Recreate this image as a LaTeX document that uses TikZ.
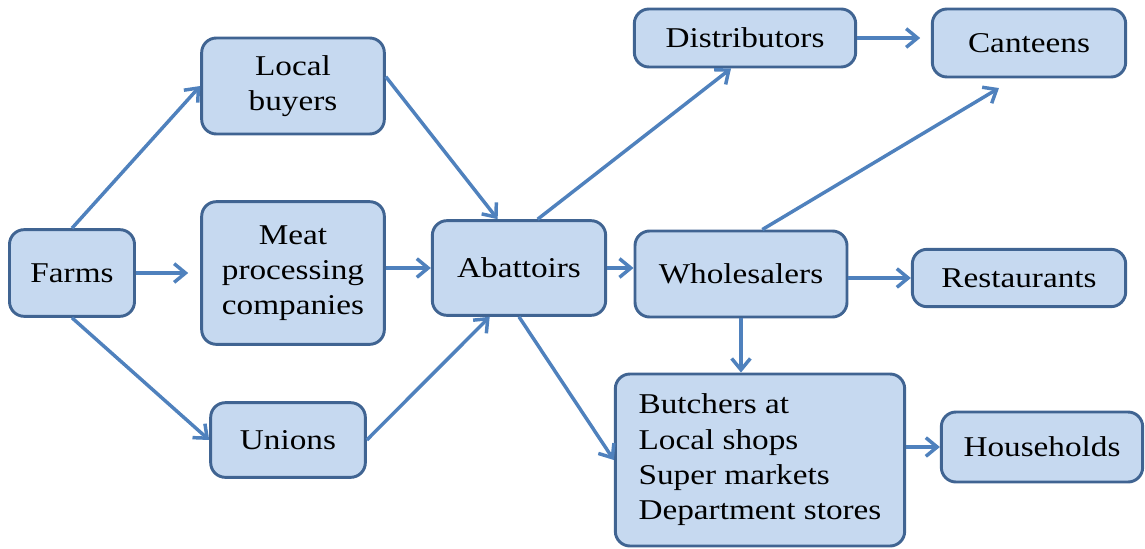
\documentclass[tikz,border=0pt]{standalone}
\usepackage{fontspec}
\setmainfont{Liberation Serif}[FakeStretch=1.16]
\usetikzlibrary{arrows.meta}

\definecolor{boxfill}{RGB}{198,217,240}
\definecolor{boxline}{RGB}{64,100,146}
\definecolor{arrowline}{RGB}{79,129,189}

\begin{document}
\begin{tikzpicture}[x=0.75pt,y=0.75pt,yscale=-1,xscale=1,
  box/.style={draw=boxline,fill=boxfill,line width=2.2pt,rounded corners=11pt,
    align=center,inner sep=0pt,font=\fontsize{21.5}{26.5}\selectfont},
  flow/.style={draw=arrowline,line width=2.6pt,-{Straight Barb[length=8.5pt,width=14pt,line width=2.6pt]}}]
\useasboundingbox (0,0) rectangle (1145,549);

% Boxes
\node [box,minimum width=93.75pt,minimum height=65pt] (farms) at (72,273) {Farms};
\node [box,minimum width=137pt,minimum height=72pt] (buyers) at (293,86) {Local\\buyers};
\node [box,minimum width=137pt,minimum height=107pt] (meat) at (293,273) {Meat\\processing\\companies};
\node [box,minimum width=116pt,minimum height=56pt] (unions) at (288,440) {Unions};
\node [box,minimum width=130pt,minimum height=71pt] (abattoirs) at (519,268) {Abattoirs};
\node [box,minimum width=166pt,minimum height=43.5pt] (distributors) at (745,38) {Distributors};
\node [box,minimum width=145pt,minimum height=51pt] (canteens) at (1029,43) {Canteens};
\node [box,minimum width=159pt,minimum height=64.5pt] (wholesalers) at (741,274) {Wholesalers};
\node [box,minimum width=160pt,minimum height=43pt] (restaurants) at (1019,278) {Restaurants};
\node [box,minimum width=217pt,minimum height=129pt,align=left] (butchers) at (760,460) {Butchers at\\Local shops\\Super markets\\Department stores};
\node [box,minimum width=151pt,minimum height=52.5pt] (households) at (1042,447) {Households};

% Arrows from farms
\draw [flow] (farms.north) -- (buyers.west);
\draw [flow,shorten >=9pt] (farms.east) -- (meat.west);
\draw [flow] (farms.south) -- (unions.west);

% Arrows into abattoirs
\draw [flow] ([yshift=-7pt]buyers.east) -- ([xshift=-16pt]abattoirs.north);
\draw [flow] (meat.east |- abattoirs.west) -- (abattoirs.west);
\draw [flow] (unions.east) -- ([xshift=-22pt]abattoirs.south);

% Arrows out of abattoirs
\draw [flow] ([xshift=14pt]abattoirs.north) -- ([xshift=-10.5pt]distributors.south);
\draw [flow] (abattoirs.east) -- (abattoirs.east -| wholesalers.west);
\draw [flow] (abattoirs.south) -- (butchers.west);

% Arrows to the customers
\draw [flow,shorten >=8pt] (distributors.east) -- (distributors.east -| canteens.west);
\draw [flow,shorten >=14pt] ([xshift=16pt]wholesalers.north) -- ([xshift=-10.5pt]canteens.south);
\draw [flow] (restaurants.west -| wholesalers.east) -- (restaurants.west);
\draw [flow] (wholesalers.south) -- (wholesalers.south |- butchers.north);
\draw [flow] (households.west -| butchers.east) -- (households.west);

\end{tikzpicture}
\end{document}
